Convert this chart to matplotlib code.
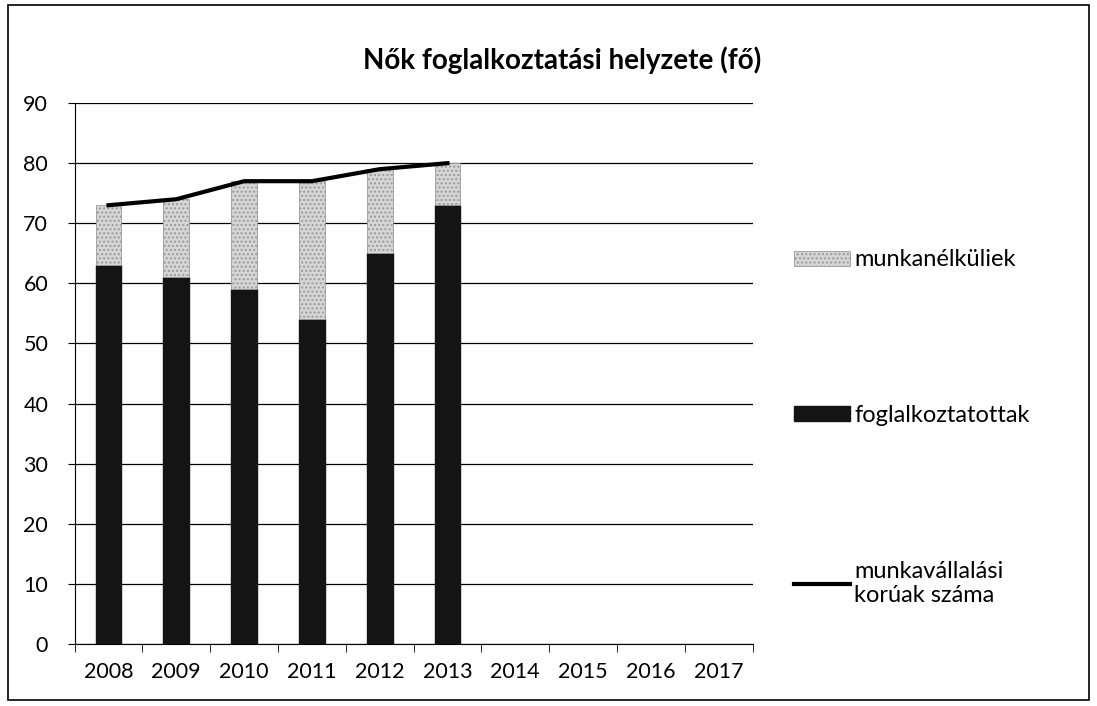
"""Nők foglalkoztatási helyzete - stacked bars plus line"""

from matplotlib import pyplot as plt
from matplotlib.patches import Rectangle

years = ["2008", "2009", "2010", "2011", "2012", "2013", "2014", "2015", "2016", "2017"]
employed = [63, 61, 59, 54, 65, 73]          # foglalkoztatottak
unemployed = [10, 13, 18, 23, 14, 7]         # munkanélküliek
working_age = [73, 74, 77, 77, 79, 80]       # munkavállalási korúak száma

plt.rcParams['font.family'] = ['Lato', 'DejaVu Sans']

fig = plt.figure(figsize=(10.97, 7.06), dpi=100)
ax = fig.add_axes([0.068, 0.088, 0.618, 0.766])

# figure frame
fig.patches.append(Rectangle((0.007, 0.008), 0.986, 0.985, transform=fig.transFigure,
                             fill=False, edgecolor="black", linewidth=1.2))

n = len(employed)
x = list(range(n))
dark = ax.bar(x, employed, width=0.38, color="#141414", edgecolor="#141414",
              label="foglalkoztatottak", zorder=3)
light = ax.bar(x, unemployed, width=0.38, bottom=employed, color="#d6d6d6",
               edgecolor="#9a9a9a", hatch="....", linewidth=0.6,
               label="munkanélküliek", zorder=3)
line, = ax.plot(x, working_age, color="black", linewidth=3,
                label="munkavállalási\nkorúak száma", zorder=4)

# Axes
ax.set_xlim(-0.5, len(years) - 0.5)
ax.set_ylim(0, 90)
ax.set_yticks(range(0, 91, 10))
ax.set_xticks(range(len(years)))
ax.set_xticklabels(years)
ax.set_xticks([i - 0.5 for i in range(len(years) + 1)], minor=True)
ax.tick_params(axis='x', which='major', length=0, pad=13, labelsize=15.5)
ax.tick_params(axis='x', which='minor', length=6, direction='out', color="black")
ax.tick_params(axis='y', length=5, labelsize=15.5, pad=14)
ax.grid(axis='y', color="black", linewidth=0.9, zorder=0)
for side in ("top", "right"):
    ax.spines[side].set_visible(False)
ax.spines["left"].set_color("black")
ax.spines["bottom"].set_color("black")

fig.text(0.512, 0.915, "Nők foglalkoztatási helyzete (fő)", ha="center", va="center",
         fontsize=20, fontweight="bold")

fig.legend([light, dark, line], ["munkanélküliek", "foglalkoztatottak", "munkavállalási\nkorúak száma"],
           loc="upper left", bbox_to_anchor=(0.715, 0.66), frameon=False,
           fontsize=17, handlelength=2.4, handleheight=0.6, handletextpad=0.15,
           labelspacing=5.7, borderaxespad=0)

plt.savefig("out.png", dpi=100)
